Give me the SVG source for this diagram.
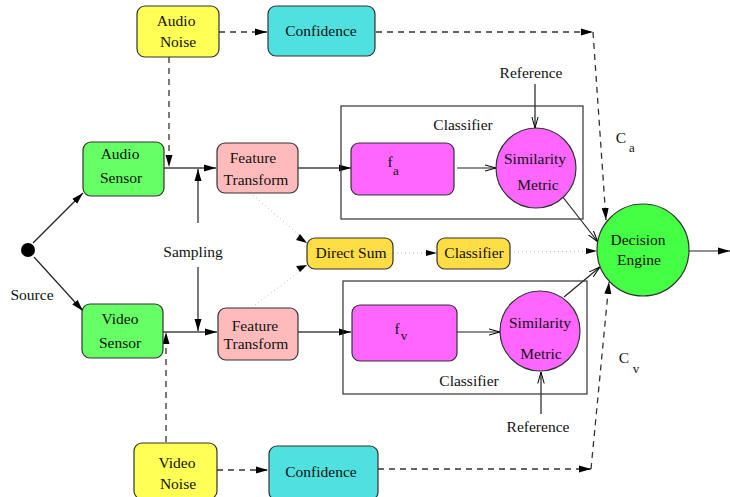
<svg xmlns="http://www.w3.org/2000/svg" width="730" height="497" viewBox="0 0 730 497">
<defs>
<marker id="fa" markerUnits="userSpaceOnUse" viewBox="0 0 12 8" refX="12" refY="4" markerWidth="12" markerHeight="8" orient="auto">
<path d="M0,0.5 L12,4 L0,7.5 Z" fill="#000"/>
</marker>
<marker id="oa" markerUnits="userSpaceOnUse" viewBox="0 0 12 8" refX="11.5" refY="4" markerWidth="12" markerHeight="8" orient="auto">
<path d="M0,0.8 L11.5,4 L0,7.2" fill="none" stroke="#000" stroke-width="1"/>
</marker>
</defs>
<style>
text{font-family:"Liberation Serif","Times New Roman",serif;font-size:15.5px;fill:#111;text-anchor:middle}
.box{stroke:#333;stroke-width:1.2}
.sol{stroke:#222;stroke-width:1.2;fill:none}
.thk{stroke:#444;stroke-width:1.6;fill:none}
.dsh{stroke:#333;stroke-width:1.3;fill:none;stroke-dasharray:6,5}
.dot{stroke:#bbb;stroke-width:1;fill:none;stroke-dasharray:1,3}
.sub{font-size:13px}
</style>
<rect x="0" y="0" width="730" height="497" fill="#fff"/>

<g id="connectors">
<line class="dsh" x1="219" y1="32" x2="267" y2="32" marker-end="url(#fa)"/>
<line class="dsh" x1="376" y1="32" x2="593" y2="32" marker-end="url(#fa)"/>
<line class="dsh" x1="593" y1="32" x2="606" y2="220" marker-end="url(#fa)"/>
<line class="dsh" x1="169" y1="57" x2="169" y2="167" marker-end="url(#fa)"/>
<line class="thk" x1="164" y1="168" x2="216" y2="168" marker-end="url(#fa)"/>
<line class="sol" x1="198" y1="223" x2="198" y2="169" marker-end="url(#fa)"/>
<line class="thk" x1="298" y1="168" x2="351" y2="168" marker-end="url(#fa)"/>
<line class="sol" x1="457" y1="168" x2="496" y2="168" marker-end="url(#oa)"/>
<line class="sol" x1="535" y1="84" x2="535" y2="128" marker-end="url(#oa)"/>
<line class="sol" x1="562" y1="196" x2="598" y2="242" marker-end="url(#oa)"/>
<line class="sol" x1="689" y1="251" x2="730" y2="251" marker-end="url(#fa)"/>
<line class="sol" x1="33" y1="243" x2="83" y2="193" marker-end="url(#fa)"/>
<line class="sol" x1="34" y1="257" x2="83" y2="311" marker-end="url(#fa)"/>
<line class="sol" x1="198" y1="267" x2="198" y2="331" marker-end="url(#fa)"/>
<line class="thk" x1="163" y1="332" x2="217" y2="332" marker-end="url(#fa)"/>
<line class="dsh" x1="166" y1="442" x2="166" y2="332" marker-end="url(#fa)"/>
<line class="thk" x1="298" y1="332" x2="351" y2="332" marker-end="url(#fa)"/>
<line class="sol" x1="457" y1="332" x2="500" y2="332" marker-end="url(#oa)"/>
<line class="sol" x1="541" y1="414" x2="541" y2="372" marker-end="url(#oa)"/>
<line class="sol" x1="564" y1="297" x2="600" y2="267" marker-end="url(#oa)"/>
<line class="dsh" x1="217" y1="470" x2="268" y2="470" marker-end="url(#fa)"/>
<line class="dsh" x1="378" y1="469" x2="591" y2="469" marker-end="url(#fa)"/>
<line class="dsh" x1="591" y1="469" x2="609" y2="282" marker-end="url(#fa)"/>
<line class="dot" x1="253" y1="195" x2="307" y2="242"/>
<line class="dot" x1="255" y1="305" x2="307" y2="266"/>
<line class="dot" x1="393" y1="253" x2="437" y2="253"/>
<line class="dot" x1="510" y1="252" x2="597" y2="251"/>
<path d="M300,234 L307,243 L296,240 Z" fill="#000"/>
<path d="M300,272 L307,265 L296,266 Z" fill="#000"/>
<path d="M426,250 L437,253 L426,256 Z" fill="#000"/>
<path d="M586,248 L597,251 L586,254 Z" fill="#000"/>
</g>

<g id="classifier-top"><rect x="341" y="106" width="242" height="113" fill="none" stroke="#333" stroke-width="1.2"/><text x="463" y="130">Classifier</text></g>
<g id="classifier-bottom"><rect x="343" y="281" width="244" height="113" fill="none" stroke="#333" stroke-width="1.2"/><text x="469" y="386">Classifier</text></g>

<g id="audio-noise"><rect class="box" x="137" y="6" width="82" height="51" rx="8" fill="#ffff55"/><text x="176" y="26">Audio</text><text x="178" y="47">Noise</text></g>
<g id="confidence-a"><rect class="box" x="268" y="6" width="107" height="50" rx="8" fill="#50e0e0"/><text x="321" y="36">Confidence</text></g>
<g id="audio-sensor"><rect class="box" x="83" y="142" width="81" height="54" rx="8" fill="#66ff66"/><text x="120" y="159">Audio</text><text x="121" y="183">Sensor</text></g>
<g id="ft-audio"><rect class="box" x="217" y="143" width="81" height="50" rx="8" fill="#ffbbbb"/><text x="253" y="163">Feature</text><text x="256" y="185">Transform</text></g>
<g id="fa-box"><rect class="box" x="351" y="143" width="103" height="52" rx="8" fill="#ff66ff"/><text x="390" y="167">f</text><text class="sub" x="396" y="175">a</text></g>
<g id="sim-a"><circle class="box" cx="536" cy="168" r="40" fill="#ff66ff"/><text x="535" y="164">Similarity</text><text x="538" y="190">Metric</text></g>
<g id="ref-a"><text x="531" y="78">Reference</text></g>
<g id="ca"><text x="621" y="143">C</text><text class="sub" x="632" y="152">a</text></g>
<g id="decision"><circle class="box" cx="643" cy="250" r="46" fill="#44ff44"/><text x="638" y="245">Decision</text><text x="639" y="265">Engine</text></g>
<g id="source"><circle cx="28" cy="250" r="7" fill="#000"/><text x="32" y="300">Source</text></g>
<g id="sampling"><text x="193" y="257">Sampling</text></g>
<g id="direct-sum"><rect class="box" x="307" y="238" width="86" height="31" rx="8" fill="#ffdd44"/><text x="351" y="258">Direct Sum</text></g>
<g id="classifier-mid"><rect class="box" x="437" y="238" width="73" height="31" rx="8" fill="#ffdd44"/><text x="474" y="258">Classifier</text></g>
<g id="video-sensor"><rect class="box" x="82" y="304" width="81" height="54" rx="8" fill="#66ff66"/><text x="120" y="324">Video</text><text x="120" y="348">Sensor</text></g>
<g id="ft-video"><rect class="box" x="218" y="308" width="80" height="52" rx="8" fill="#ffbbbb"/><text x="255" y="331">Feature</text><text x="256" y="349">Transform</text></g>
<g id="fv-box"><rect class="box" x="352" y="305" width="105" height="56" rx="8" fill="#ff66ff"/><text x="397" y="334">f</text><text class="sub" x="404" y="340">v</text></g>
<g id="sim-v"><circle class="box" cx="540" cy="331" r="40" fill="#ff66ff"/><text x="540" y="328">Similarity</text><text x="541" y="359">Metric</text></g>
<g id="ref-v"><text x="538" y="432">Reference</text></g>
<g id="cv"><text x="624" y="363">C</text><text class="sub" x="636" y="373">v</text></g>
<g id="video-noise"><rect class="box" x="134" y="443" width="83" height="56" rx="8" fill="#ffff55"/><text x="177" y="468">Video</text><text x="178" y="489">Noise</text></g>
<g id="confidence-v"><rect class="box" x="269" y="446" width="109" height="54" rx="8" fill="#50e0e0"/><text x="321" y="477">Confidence</text></g>
</svg>
